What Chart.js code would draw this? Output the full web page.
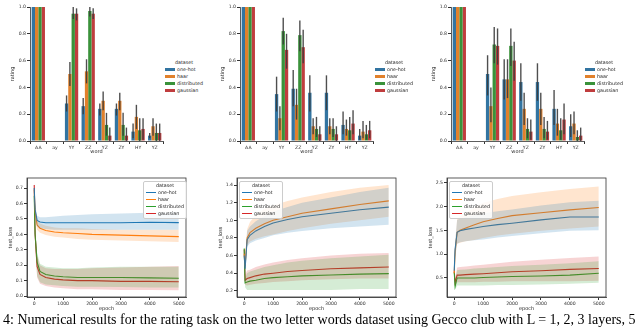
<!DOCTYPE html>
<html>
<head>
<script src="https://cdn.jsdelivr.net/npm/chart.js@4"></script>
<style>
body { margin: 0; background: #fff; }
#page { position: relative; width: 640px; height: 328px; overflow: hidden; background: #fff; font-family: "DejaVu Sans", sans-serif; }
canvas { position: absolute; }
.legend { position: absolute; font-size: 4.8px; color: #262626; line-height: 7px; }
.legend .ttl { text-align: center; }
.legend .row { white-space: nowrap; }
.legend .sw { display: inline-block; width: 10px; vertical-align: middle; margin-right: 2px; }
.boxed { background: rgba(255,255,255,0.85); border: 0.6px solid #ccc; border-radius: 2px; padding: 0px 2px 1px 2px; }
#caption { position: absolute; left: 3px; top: 312px; font-family: "Liberation Serif", serif; font-size: 14px; white-space: nowrap; color: #000; }
</style>
</head>
<body>
<div id="page">
  <canvas id="bar1" width="165" height="160" style="left:0px;top:0px"></canvas>
  <canvas id="bar2" width="165" height="160" style="left:210px;top:0px"></canvas>
  <canvas id="bar3" width="165" height="160" style="left:421px;top:0px"></canvas>
  <canvas id="loss1" width="190" height="139" style="left:0px;top:174px"></canvas>
  <canvas id="loss2" width="190" height="139" style="left:210px;top:174px"></canvas>
  <canvas id="loss3" width="190" height="139" style="left:420px;top:174px"></canvas>
  <div id="caption">4: Numerical results for the rating task on the two letter words dataset using Gecco club with L = 1, 2, 3 layers, 5</div>
</div>

<script>
// categories and series
const words = ['AA', 'ay', 'YY', 'ZZ', 'YZ', 'ZY', 'HY', 'YZ'];
const series = ['one-hot', 'haar', 'distributed', 'gaussian'];
const barColors = ['#3274a1', '#e1812c', '#3a923a', '#c03d3e'];
const lineColors = ['#1f77b4', '#ff7f0e', '#2ca02c', '#d62728'];
const bandColors = ['rgba(31,119,180,0.2)', 'rgba(255,127,14,0.2)', 'rgba(44,160,44,0.2)', 'rgba(214,39,40,0.2)'];

// rating bars, rows = series (one-hot, haar, distributed, gaussian)
const rating1 = [
  [1.0, 0, 0.28, 0.26, 0.24, 0.24, 0.07, 0.04],
  [1.0, 0, 0.50, 0.52, 0.30, 0.30, 0.18, 0.11],
  [1.0, 0, 0.95, 0.97, 0.12, 0.12, 0.08, 0.06],
  [1.0, 0, 0.95, 0.95, 0.04, 0.04, 0.09, 0.06]
];
const rating1Lo = [
  [1.0, 0, 0.22, 0.20, 0.19, 0.19, 0.02, 0.02],
  [1.0, 0, 0.41, 0.43, 0.23, 0.23, 0.09, 0.04],
  [1.0, 0, 0.91, 0.93, 0.04, 0.04, 0.00, 0.00],
  [1.0, 0, 0.90, 0.91, 0.00, 0.00, 0.01, 0.00]
];
const rating1Hi = [
  [1.0, 0, 0.34, 0.32, 0.28, 0.28, 0.13, 0.06],
  [1.0, 0, 0.59, 0.61, 0.37, 0.36, 0.27, 0.17],
  [1.0, 0, 1.00, 1.00, 0.21, 0.21, 0.17, 0.13],
  [1.0, 0, 0.99, 0.99, 0.10, 0.10, 0.17, 0.13]
];

const rating2 = [
  [1.0, 0, 0.35, 0.39, 0.36, 0.36, 0.12, 0.04],
  [1.0, 0, 0.17, 0.27, 0.11, 0.11, 0.09, 0.07],
  [1.0, 0, 0.82, 0.79, 0.09, 0.09, 0.08, 0.05],
  [1.0, 0, 0.68, 0.70, 0.05, 0.05, 0.13, 0.08]
];
const rating2Lo = [
  [1.0, 0, 0.22, 0.26, 0.22, 0.23, 0.05, 0.01],
  [1.0, 0, 0.08, 0.16, 0.05, 0.05, 0.04, 0.02],
  [1.0, 0, 0.72, 0.67, 0.03, 0.03, 0.01, 0.01],
  [1.0, 0, 0.54, 0.58, 0.00, 0.00, 0.05, 0.02]
];
const rating2Hi = [
  [1.0, 0, 0.48, 0.53, 0.49, 0.49, 0.22, 0.09],
  [1.0, 0, 0.26, 0.39, 0.17, 0.17, 0.16, 0.15],
  [1.0, 0, 0.92, 0.90, 0.18, 0.17, 0.18, 0.12],
  [1.0, 0, 0.80, 0.83, 0.11, 0.11, 0.23, 0.15]
];

const rating3 = [
  [1.0, 0, 0.50, 0.46, 0.44, 0.44, 0.24, 0.11],
  [1.0, 0, 0.26, 0.46, 0.24, 0.24, 0.13, 0.13],
  [1.0, 0, 0.72, 0.71, 0.09, 0.09, 0.08, 0.03],
  [1.0, 0, 0.71, 0.60, 0.07, 0.07, 0.16, 0.04]
];
const rating3Lo = [
  [1.0, 0, 0.34, 0.31, 0.30, 0.30, 0.12, 0.03],
  [1.0, 0, 0.14, 0.32, 0.12, 0.12, 0.04, 0.05],
  [1.0, 0, 0.58, 0.56, 0.02, 0.02, 0.01, 0.00],
  [1.0, 0, 0.57, 0.45, 0.01, 0.01, 0.05, 0.00]
];
const rating3Hi = [
  [1.0, 0, 0.64, 0.61, 0.58, 0.58, 0.38, 0.20],
  [1.0, 0, 0.40, 0.61, 0.36, 0.36, 0.24, 0.22],
  [1.0, 0, 0.85, 0.84, 0.17, 0.18, 0.17, 0.08],
  [1.0, 0, 0.84, 0.74, 0.16, 0.15, 0.28, 0.10]
];
const ratingTicks = [0, 0.2, 0.4, 0.6, 0.8, 1.0];

// test loss curves over epochs
const epochs = [0, 30, 100, 200, 400, 700, 1000, 1500, 2000, 3000, 4000, 5000];
const epochTicks = [0, 1000, 2000, 3000, 4000, 5000];

const loss1 = [
  [0.70, 0.56, 0.49, 0.48, 0.475, 0.475, 0.475, 0.475, 0.475, 0.475, 0.478, 0.476],
  [0.69, 0.55, 0.46, 0.44, 0.425, 0.415, 0.41, 0.405, 0.40, 0.395, 0.39, 0.385],
  [0.65, 0.40, 0.22, 0.16, 0.14, 0.13, 0.125, 0.12, 0.12, 0.12, 0.118, 0.115],
  [0.72, 0.40, 0.19, 0.14, 0.12, 0.11, 0.105, 0.10, 0.10, 0.095, 0.095, 0.093]
];
const loss1Lo = [
  [0.66, 0.50, 0.45, 0.44, 0.435, 0.43, 0.43, 0.43, 0.43, 0.43, 0.43, 0.43],
  [0.65, 0.51, 0.43, 0.41, 0.395, 0.385, 0.38, 0.37, 0.365, 0.36, 0.355, 0.35],
  [0.60, 0.33, 0.13, 0.09, 0.075, 0.07, 0.065, 0.06, 0.06, 0.058, 0.056, 0.055],
  [0.66, 0.33, 0.12, 0.08, 0.065, 0.055, 0.05, 0.045, 0.045, 0.04, 0.04, 0.038]
];
const loss1Hi = [
  [0.74, 0.60, 0.52, 0.51, 0.51, 0.515, 0.52, 0.525, 0.53, 0.535, 0.54, 0.545],
  [0.73, 0.59, 0.49, 0.47, 0.455, 0.445, 0.44, 0.44, 0.435, 0.43, 0.43, 0.43],
  [0.70, 0.46, 0.28, 0.21, 0.19, 0.185, 0.18, 0.18, 0.185, 0.19, 0.19, 0.19],
  [0.76, 0.46, 0.26, 0.20, 0.18, 0.175, 0.175, 0.175, 0.18, 0.185, 0.19, 0.195]
];

const loss2 = [
  [0.60, 0.45, 0.78, 0.83, 0.88, 0.93, 0.97, 1.01, 1.04, 1.08, 1.12, 1.15],
  [0.62, 0.48, 0.80, 0.86, 0.91, 0.96, 1.00, 1.04, 1.08, 1.13, 1.18, 1.22],
  [0.68, 0.29, 0.30, 0.31, 0.32, 0.34, 0.35, 0.36, 0.37, 0.38, 0.39, 0.395],
  [0.67, 0.32, 0.34, 0.35, 0.37, 0.39, 0.40, 0.42, 0.43, 0.45, 0.46, 0.47]
];
const loss2Lo = [
  [0.55, 0.38, 0.70, 0.74, 0.77, 0.80, 0.83, 0.86, 0.88, 0.91, 0.93, 0.95],
  [0.56, 0.40, 0.72, 0.76, 0.79, 0.82, 0.84, 0.88, 0.91, 0.96, 1.00, 1.04],
  [0.62, 0.24, 0.21, 0.21, 0.21, 0.21, 0.21, 0.21, 0.21, 0.21, 0.22, 0.22],
  [0.61, 0.27, 0.26, 0.27, 0.28, 0.29, 0.30, 0.31, 0.32, 0.33, 0.34, 0.34]
];
const loss2Hi = [
  [0.66, 0.52, 0.88, 0.93, 0.99, 1.05, 1.10, 1.15, 1.20, 1.26, 1.32, 1.37],
  [0.68, 0.56, 0.90, 0.98, 1.06, 1.13, 1.17, 1.22, 1.26, 1.32, 1.37, 1.40],
  [0.72, 0.34, 0.40, 0.42, 0.44, 0.47, 0.49, 0.52, 0.54, 0.57, 0.59, 0.61],
  [0.72, 0.38, 0.43, 0.44, 0.47, 0.50, 0.52, 0.55, 0.57, 0.60, 0.62, 0.63]
];

const loss3 = [
  [0.65, 1.10, 1.46, 1.49, 1.52, 1.55, 1.58, 1.62, 1.65, 1.72, 1.78, 1.78],
  [0.60, 1.05, 1.46, 1.50, 1.55, 1.62, 1.68, 1.75, 1.81, 1.87, 1.93, 1.98],
  [0.62, 0.32, 0.50, 0.50, 0.50, 0.50, 0.51, 0.52, 0.53, 0.54, 0.56, 0.60],
  [0.65, 0.40, 0.56, 0.56, 0.57, 0.58, 0.59, 0.61, 0.63, 0.65, 0.68, 0.70]
];
const loss3Lo = [
  [0.55, 0.95, 1.22, 1.25, 1.27, 1.29, 1.31, 1.35, 1.38, 1.44, 1.49, 1.50],
  [0.50, 0.90, 1.22, 1.24, 1.27, 1.30, 1.34, 1.39, 1.43, 1.49, 1.54, 1.58],
  [0.55, 0.25, 0.34, 0.34, 0.34, 0.34, 0.34, 0.35, 0.35, 0.36, 0.38, 0.40],
  [0.58, 0.32, 0.41, 0.41, 0.41, 0.41, 0.42, 0.42, 0.43, 0.43, 0.43, 0.44]
];
const loss3Hi = [
  [0.75, 1.25, 1.72, 1.75, 1.78, 1.82, 1.86, 1.90, 1.94, 2.02, 2.09, 2.12],
  [0.70, 1.20, 1.74, 1.80, 1.87, 1.98, 2.08, 2.16, 2.22, 2.30, 2.37, 2.42],
  [0.70, 0.40, 0.66, 0.67, 0.68, 0.70, 0.71, 0.73, 0.75, 0.78, 0.81, 0.85],
  [0.72, 0.48, 0.72, 0.73, 0.74, 0.76, 0.78, 0.81, 0.84, 0.88, 0.92, 0.95]
];
const lossTicks1 = [0, 0.1, 0.2, 0.3, 0.4, 0.5, 0.6, 0.7];
const lossTicks2 = [0.2, 0.4, 0.6, 0.8, 1.0, 1.2, 1.4];
const lossTicks3 = [0.5, 1.0, 1.5, 2.0, 2.5];

const tickFont = { family: 'DejaVu Sans', size: 4.6 };
const titleFont = { family: 'DejaVu Sans', size: 5 };
const axisGrey = '#333';

// vertical error bars through the y scale
const errorBars = {
  id: 'errorBars',
  afterDatasetsDraw(chart, args, opts) {
    if (!opts.lo) return;
    const ctx = chart.ctx;
    const y = chart.scales.y;
    ctx.save();
    ctx.strokeStyle = 'rgba(60,60,60,0.9)';
    ctx.lineWidth = 1.4;
    chart.data.datasets.forEach((ds, i) => {
      chart.getDatasetMeta(i).data.forEach((bar, j) => {
        const a = opts.lo[i][j], b = opts.hi[i][j];
        if (a === b) return;
        ctx.beginPath();
        ctx.moveTo(bar.x, y.getPixelForValue(a));
        ctx.lineTo(bar.x, y.getPixelForValue(b));
        ctx.stroke();
      });
    });
    ctx.restore();
  }
};

// full box around the plot area for loss charts
const frame = {
  id: 'frame',
  afterDraw(chart, args, opts) {
    if (!opts.show) return;
    const a = chart.chartArea, ctx = chart.ctx;
    ctx.save();
    ctx.strokeStyle = axisGrey;
    ctx.lineWidth = 0.8;
    ctx.strokeRect(a.left, a.top, a.right - a.left, a.bottom - a.top);
    ctx.restore();
  }
};

function makeBar(id, mean, lo, hi) {
  new Chart(document.getElementById(id), {
    type: 'bar',
    data: {
      labels: words,
      datasets: series.map((s, i) => ({
        label: s,
        data: mean[i],
        backgroundColor: barColors[i],
        borderWidth: 0,
        categoryPercentage: 0.8,
        barPercentage: 1.0
      }))
    },
    options: {
      animation: false,
      responsive: false,
      layout: { padding: { top: 7, right: 2, left: 0, bottom: 0 } },
      plugins: {
        legend: { display: false },
        tooltip: { enabled: false },
        errorBars: { lo: lo, hi: hi },
        frame: { show: false }
      },
      scales: {
        x: {
          grid: { display: true, drawOnChartArea: false, drawTicks: true, tickLength: 3, color: axisGrey },
          border: { display: true, color: axisGrey, width: 0.8 },
          ticks: { font: tickFont, color: axisGrey, padding: 1, maxRotation: 0, autoSkip: false },
          title: { display: true, text: 'word', font: titleFont, color: '#262626', padding: { top: 0, bottom: 5 } },
          afterFit: s => { s.height = 19; }
        },
        y: {
          min: 0, max: 1.0,
          afterBuildTicks: s => { s.ticks = ratingTicks.map(v => ({ value: v })); },
          grid: { display: true, drawOnChartArea: false, drawTicks: true, tickLength: 3, color: axisGrey },
          border: { display: true, color: axisGrey, width: 0.8 },
          ticks: { font: tickFont, color: axisGrey, padding: 1, callback: v => v.toFixed(1) },
          title: { display: true, text: 'rating', font: titleFont, color: '#262626', padding: { top: 10, bottom: 0 } },
          afterFit: s => { s.width = 30; }
        }
      }
    },
    plugins: [errorBars, frame]
  });
}

function makeLoss(id, mean, lo, hi, yMin, yMax, yTicks) {
  const datasets = [];
  series.forEach((s, i) => {
    datasets.push({
      data: epochs.map((e, k) => ({ x: e, y: lo[i][k] })),
      borderWidth: 0, pointRadius: 0, fill: false, borderColor: 'transparent'
    });
    datasets.push({
      data: epochs.map((e, k) => ({ x: e, y: hi[i][k] })),
      borderWidth: 0, pointRadius: 0, fill: '-1', borderColor: 'transparent',
      backgroundColor: bandColors[i]
    });
  });
  series.forEach((s, i) => {
    datasets.push({
      label: s,
      data: epochs.map((e, k) => ({ x: e, y: mean[i][k] })),
      borderColor: lineColors[i], borderWidth: 1.1, pointRadius: 0, fill: false
    });
  });
  new Chart(document.getElementById(id), {
    type: 'line',
    data: { datasets: datasets },
    options: {
      animation: false,
      responsive: false,
      layout: { padding: { top: 4, right: 4, left: 0, bottom: 0 } },
      plugins: {
        legend: { display: false },
        tooltip: { enabled: false },
        frame: { show: true }
      },
      scales: {
        x: {
          type: 'linear', min: -250, max: 5250,
          afterBuildTicks: s => { s.ticks = epochTicks.map(v => ({ value: v })); },
          grid: { display: true, drawOnChartArea: false, drawTicks: true, tickLength: 3, color: axisGrey },
          border: { display: true, color: axisGrey, width: 0.8 },
          ticks: { font: tickFont, color: axisGrey, padding: 1, maxRotation: 0, callback: v => String(v) },
          title: { display: true, text: 'epoch', font: titleFont, color: '#262626', padding: { top: 0, bottom: 1 } },
          afterFit: s => { s.height = 16; }
        },
        y: {
          min: yMin, max: yMax,
          afterBuildTicks: s => { s.ticks = yTicks.map(v => ({ value: v })); },
          grid: { display: true, drawOnChartArea: false, drawTicks: true, tickLength: 3, color: axisGrey },
          border: { display: true, color: axisGrey, width: 0.8 },
          ticks: { font: tickFont, color: axisGrey, padding: 1, callback: v => v.toFixed(1) },
          title: { display: true, text: 'test_loss', font: titleFont, color: '#262626', padding: { top: 8, bottom: 0 } },
          afterFit: s => { s.width = 27; }
        }
      }
    },
    plugins: [frame]
  });
}

function makeLegend(left, top, boxed, asLine) {
  const div = document.createElement('div');
  div.className = 'legend' + (boxed ? ' boxed' : '');
  div.style.left = left + 'px';
  div.style.top = top + 'px';
  let html = '<div class="ttl">dataset</div>';
  series.forEach((s, i) => {
    const sw = asLine
      ? `<span class="sw" style="height:0;border-top:1.2px solid ${lineColors[i]}"></span>`
      : `<span class="sw" style="height:3.5px;background:${barColors[i]}"></span>`;
    html += `<div class="row">${sw}${s}</div>`;
  });
  div.innerHTML = html;
  document.getElementById('page').appendChild(div);
}

makeBar('bar1', rating1, rating1Lo, rating1Hi);
makeBar('bar2', rating2, rating2Lo, rating2Hi);
makeBar('bar3', rating3, rating3Lo, rating3Hi);
makeLoss('loss1', loss1, loss1Lo, loss1Hi, -0.006, 0.765, lossTicks1);
makeLoss('loss2', loss2, loss2Lo, loss2Hi, 0.13, 1.48, lossTicks2);
makeLoss('loss3', loss3, loss3Lo, loss3Hi, 0.1, 2.6, lossTicks3);

makeLegend(165, 59, false, false);
makeLegend(375, 59, false, false);
makeLegend(585, 59, false, false);
makeLegend(143, 181, true, true);
makeLegend(239, 181, true, true);
makeLegend(449, 181, true, true);
</script>
</body>
</html>
